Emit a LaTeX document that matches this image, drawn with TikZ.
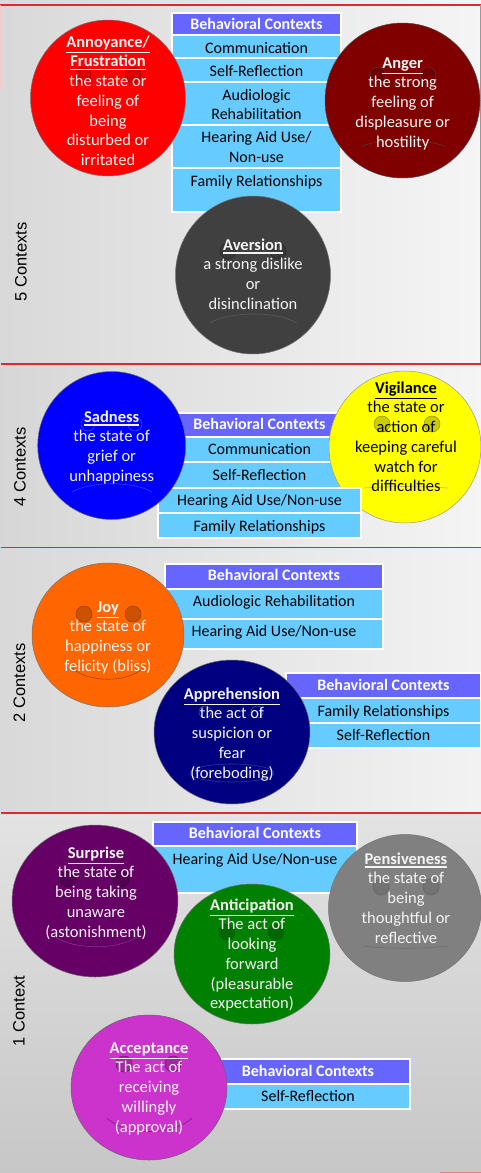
\documentclass[tikz,border=0pt]{standalone}
\usepackage{fontspec}
\setmainfont{Carlito}
\newfontfamily\labelfont{Liberation Sans}
\usetikzlibrary{calc,shapes.geometric}

\definecolor{hdrblue}{HTML}{6666FF}
\definecolor{rowblue}{HTML}{66CCFF}
\definecolor{sepred}{HTML}{E0282E}
\definecolor{cAnnoy}{HTML}{FF0000}
\definecolor{cAnger}{HTML}{800000}
\definecolor{cAversion}{HTML}{404040}
\definecolor{cSad}{HTML}{0000FF}
\definecolor{cVigil}{HTML}{FFFF00}
\definecolor{cJoy}{HTML}{FF6600}
\definecolor{cAppr}{HTML}{000080}
\definecolor{cSurp}{HTML}{660066}
\definecolor{cAntic}{HTML}{008000}
\definecolor{cPens}{HTML}{808080}
\definecolor{cAccept}{HTML}{CC33CC}
\definecolor{emwhite}{HTML}{F4F4F4}

% strut that fixes the height of a first text line
\newcommand\tstrut{\rule{0pt}{13pt}}
% bold, underlined emotion title
\newcommand\ttl[1]{\setbox0=\hbox{\bfseries #1}\vtop{\copy0\kern1.8pt\hrule height 1.5pt width \wd0}}

% table cell: name, style, x1, y1, x2, y2, text baseline, text
\newcommand\tcell[8]{%
  \node[#2, minimum width={(#5-#3)*1pt}, minimum height={(#6-#4)*1pt}] (#1) at ({(#3+#5)/2},{(#4+#6)/2}) {};
  \node[#2text, anchor=base] (#1t) at ({(#3+#5)/2},#7) {#8};}
% two-line table cell: last argument before text is the first line centre
\newcommand\tcellm[8]{%
  \node[#2, minimum width={(#5-#3)*1pt}, minimum height={(#6-#4)*1pt}] (#1) at ({(#3+#5)/2},{(#4+#6)/2}) {};
  \node[#2text, align=center, anchor=north] (#1t) at ({(#3+#5)/2},{#7-8}) {\tstrut #8};}

\tikzset{
  emo/.style={ellipse, draw=black!55, line width=0.5pt, inner sep=0pt},
  emtext/.style={align=center, anchor=north, inner sep=0pt, text=emwhite,
                 font=\fontsize{16.5}{19.7}\selectfont},
  hdr/.style={rectangle, fill=hdrblue, draw=white, line width=1.3pt, inner sep=0pt},
  row/.style={rectangle, fill=rowblue, draw=white, line width=1.3pt, inner sep=0pt},
  hdrtext/.style={inner sep=0pt, text=white, font=\fontsize{16}{19.7}\selectfont\bfseries},
  rowtext/.style={inner sep=0pt, text=black, font=\fontsize{16}{19.7}\selectfont},
  secline/.style={draw=sepred, line width=1.1pt},
  ctxlabel/.style={rotate=90, inner sep=0pt, text=black,
                   font=\labelfont\fontsize{16.5}{20}\selectfont},
  eye/.style={line width=0.5pt},
  mouth/.style={line width=0.6pt, draw opacity=0.7},
}

\begin{document}
\begin{tikzpicture}[x=1pt,y=-1pt]
\useasboundingbox (0,0) rectangle (481,1173);

% ---------- backgrounds of the four bands ----------
\shade[left color=black!15, right color=black!4] (0,0) rectangle (481,364);
\shade[left color=black!16, right color=black!4] (0,364) rectangle (481,547.5);
\shade[left color=black!15, right color=black!5] (0,547.5) rectangle (481,813);
\shade[top color=black!11, bottom color=black!22] (0,813) rectangle (481,1173);

% ---------- band separators ----------
\draw[secline] (0,5) -- (481,5);
\draw[draw=sepred!25, line width=0.6pt] (0.6,5) -- (0.6,90);
\draw[draw=black!40, line width=0.6pt] (480.7,5) -- (480.7,364);
\draw[secline] (1,364) -- (481,364);
\draw[secline] (1,547.5) -- (481,547.5);
\draw[secline] (1,813) -- (481,813);
\draw[secline, draw=sepred!60] (440,1172.4) -- (481,1172.4);

% ---------- band labels ----------
\node[ctxlabel] (lab5) at (21,262) {5 Contexts};
\node[ctxlabel] (lab4) at (20,467) {4 Contexts};
\node[ctxlabel] (lab2) at (19.5,683) {2 Contexts};
\node[ctxlabel] (lab1) at (19,1011) {1 Context};

% =============== 5 contexts ===============
\tcell{s1h}{hdr}{172}{13}{341}{35}{29}{Behavioral Contexts}
\tcell{s1a}{row}{172}{35}{341}{58}{53.3}{Communication}
\tcell{s1b}{row}{172}{58}{341}{82}{76}{Self-Reflection}
\tcellm{s1c}{row}{172}{82}{341}{125}{95}{Audiologic\\Rehabilitation}
\tcellm{s1d}{row}{172}{125}{341}{168}{137.7}{Hearing Aid Use/\\Non-use}
\tcell{s1e}{row}{172}{168}{341}{212}{186.7}{Family Relationships}

% Annoyance / Frustration
\node[emo, fill=cAnnoy, minimum width=155pt, minimum height=156pt] (annoy) at (108,98) {};
\filldraw[eye, fill=cAnnoy!85!black, draw=cAnnoy!55!black] (83,75) circle[radius=8pt] (133,75) circle[radius=8pt];
\draw[mouth, draw=cAnnoy!55!black] (67,147) .. controls (88,134) and (128,134) .. (150,147);
\node[emtext] (annoyt) at (108,{42-8}) {\tstrut\ttl{Annoyance/}\\\ttl{Frustration}\\the state or\\feeling of\\being\\disturbed or\\irritated};

% Anger
\node[emo, fill=cAnger, draw=black!70, minimum width=155pt, minimum height=155pt] (anger) at (402.5,100.5) {};
\filldraw[eye, fill=cAnger!85!black, draw=black!75] (378,75) circle[radius=8pt] (428,75) circle[radius=8pt];
\draw[mouth, draw=black!70] (362,146) .. controls (385,138) and (420,138) .. (445,146);
\node[emtext] (angert) at (402.7,{63-8}) {\tstrut\ttl{Anger}\\the strong\\feeling of\\displeasure or\\hostility};

% Aversion
\node[emo, fill=cAversion, minimum width=155pt, minimum height=158pt] (aversion) at (253,275) {};
\filldraw[eye, fill=black!78, draw=black!85] (228,251) circle[radius=8pt] (278,251) circle[radius=8pt];
\draw[mouth, draw=black!60] (210,323) .. controls (230,311) and (277,311) .. (297,323);
\node[emtext] (aversiont) at (253,{245-8}) {\tstrut\ttl{Aversion}\\a strong dislike\\or\\disinclination};

% =============== 4 contexts ===============
\tcell{s2h}{hdr}{158}{413}{361}{437}{429}{Behavioral Contexts}
\tcell{s2a}{row}{158}{437}{361}{462}{454.3}{Communication}
\tcell{s2b}{row}{158}{462}{361}{488}{480}{Self-Reflection}

% Vigilance
\node[emo, fill=cVigil, draw=black!40, minimum width=152pt, minimum height=152pt] (vigil) at (405,447) {};
\filldraw[eye, fill=cVigil!80!black, draw=cVigil!55!black] (382,424) circle[radius=8pt] (432,424) circle[radius=8pt];
\draw[mouth, draw=black!35] (363,488) .. controls (390,486) and (420,486) .. (448,488);
\node[emtext, text=black] (vigilt) at (406,{388-8}) {\tstrut\ttl{Vigilance}\\the state or\\action of\\keeping careful\\watch for\\difficulties};

\tcell{s2c}{row}{158}{488}{361}{513}{505}{Hearing Aid Use/Non-use}
\tcell{s2d}{row}{158}{513}{361}{538}{531}{Family Relationships}

% Sadness
\node[emo, fill=cSad, minimum width=148pt, minimum height=148pt] (sad) at (111.7,445.5) {};
\draw[eye, draw=cSad!60!white, draw opacity=0.7] (88,424) circle[radius=7pt] (135,424) circle[radius=7pt];
\draw[mouth, draw=cSad!55!white, draw opacity=0.5] (72,492) .. controls (90,481) and (134,481) .. (152,492);
\node[emtext] (sadt) at (111.7,{417-8}) {\tstrut\ttl{Sadness}\\the state of\\grief or\\unhappiness};

% =============== 2 contexts ===============
\tcell{s3h}{hdr}{165}{564}{383}{589}{580.7}{Behavioral Contexts}
\tcell{s3a}{row}{165}{589}{383}{619}{606}{Audiologic Rehabilitation}
\tcell{s3b}{row}{165}{619}{383}{649}{636.7}{Hearing Aid Use/Non-use}

% Joy
\node[emo, fill=cJoy, minimum width=152pt, minimum height=144pt] (joy) at (108,635) {};
\filldraw[eye, fill=cJoy!80!black, draw=cJoy!60!black] (84,614) circle[radius=8pt] (133,614) circle[radius=8pt];
\draw[mouth, draw=cJoy!50!black] (72,668) .. controls (88,683) and (128,683) .. (143,668);
\node[emtext] (joyt) at (108,{607-8}) {\tstrut\ttl{Joy}\\the state of\\happiness or\\felicity (bliss)};

\tcell{s3i}{hdr}{286}{673}{481}{698}{690}{Behavioral Contexts}
\tcell{s3j}{row}{286}{698}{481}{723}{716}{Family Relationships}
\tcell{s3k}{row}{286}{723}{481}{748}{740.7}{Self-Reflection}

% Apprehension
\node[emo, fill=cAppr, minimum width=156pt, minimum height=144pt] (appr) at (232,732) {};
\draw[eye, draw=cAppr!55!white, draw opacity=0.7] (205,712) circle[radius=6pt] (257,712) circle[radius=6pt];
\draw[mouth, draw=cAppr!60!white, draw opacity=0.5] (232,773) ellipse[x radius=42pt, y radius=9pt];
\node[emtext] (apprt) at (232,{694-8}) {\tstrut\ttl{Apprehension}\\the act of\\suspicion or\\fear\\(foreboding)};

% =============== 1 context ===============
\tcell{s4h}{hdr}{153}{822}{357}{846}{838.3}{Behavioral Contexts}
\tcell{s4a}{row}{153}{846}{357}{893}{864.3}{Hearing Aid Use/Non-use}

% Surprise
\node[emo, fill=cSurp, minimum width=166pt, minimum height=152pt] (surp) at (95,901) {};
\filldraw[eye, fill=cSurp!80!black, draw=cSurp!60!black] (68,879) circle[radius=8pt] (121,879) circle[radius=8pt];
\draw[mouth, draw=cSurp!60!white, draw opacity=0.5] (55,937) .. controls (75,950) and (118,950) .. (137,937);
\node[emtext] (surpt) at (96,{853-8}) {\tstrut\ttl{Surprise}\\the state of\\being taking\\unaware\\(astonishment)};

% Pensiveness
\node[emo, fill=cPens, minimum width=153pt, minimum height=147pt] (pens) at (405,908) {};
\filldraw[eye, fill=black!55, draw=black!62] (381,887) circle[radius=8pt] (431,887) circle[radius=8pt];
\draw[mouth, draw=black!60] (363,946) .. controls (390,949) and (420,949) .. (448,946);
\node[emtext] (penst) at (406,{859-8}) {\tstrut\ttl{Pensiveness}\\the state of\\being\\thoughtful or\\reflective};

% Anticipation
\node[emo, fill=cAntic, minimum width=156pt, minimum height=140pt] (antic) at (252,954) {};
\filldraw[eye, fill=cAntic!80!black, draw=cAntic!75!black] (227,932) circle[radius=8pt] (276,932) circle[radius=8pt];
\node[emtext] (antict) at (252,{905-8}) {\tstrut\ttl{Anticipation}\\The act of\\looking\\forward\\(pleasurable\\expectation)};

\tcell{s4i}{hdr}{206}{1059}{410}{1084}{1076}{Behavioral Contexts}
\tcell{s4j}{row}{206}{1084}{410}{1109}{1101.7}{Self-Reflection}

% Acceptance
\node[emo, fill=cAccept, draw=black!60, minimum width=156pt, minimum height=145pt] (accept) at (149,1087.5) {};
\filldraw[eye, fill=cAccept!80!black, draw=cAccept!50!black] (124,1064) circle[radius=8pt] (173,1064) circle[radius=8pt];
\draw[mouth, draw=cAccept!45!black] (107,1118) .. controls (125,1136) and (173,1136) .. (192,1118);
\node[emtext] (acceptt) at (149,{1048-8}) {\tstrut\ttl{Acceptance}\\The act of\\receiving\\willingly\\(approval)};

\end{tikzpicture}
\end{document}
